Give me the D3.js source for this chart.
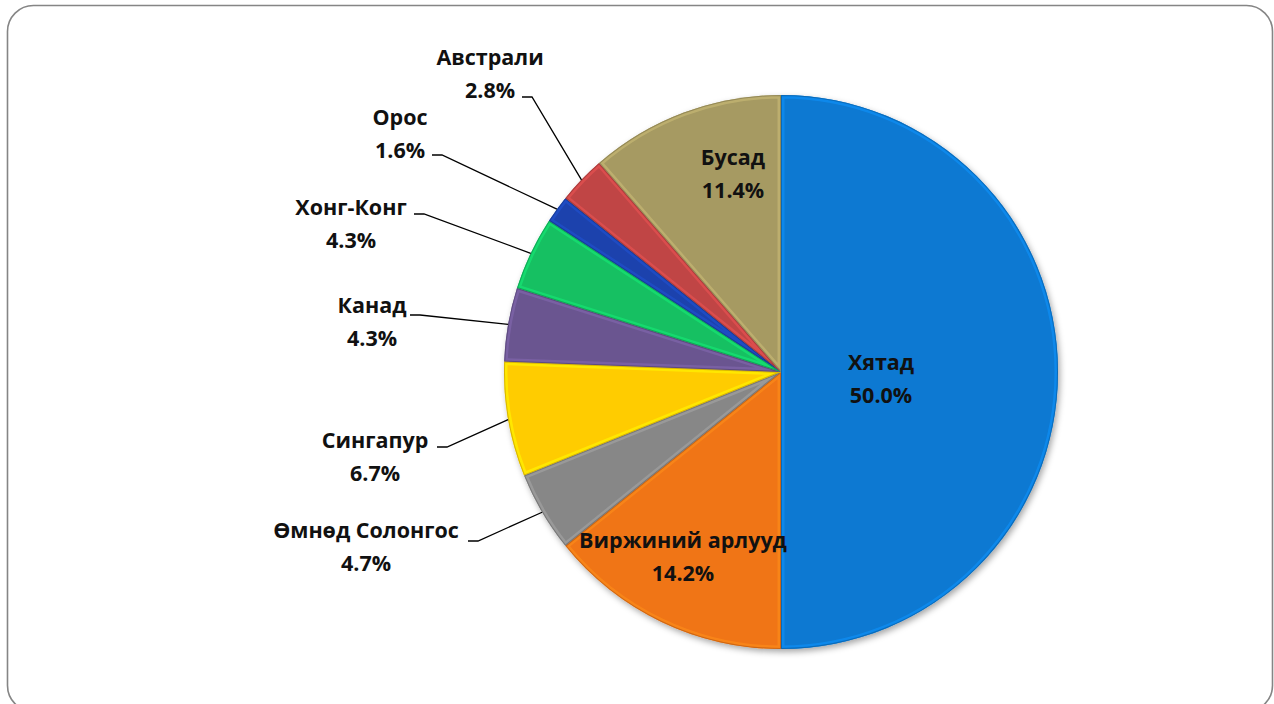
<!DOCTYPE html>
<html><head><meta charset="utf-8">
<script src="https://cdn.jsdelivr.net/npm/d3@7"></script>
<style>html,body{margin:0;padding:0;background:#fff;}svg{display:block;}</style>
</head><body>
<svg id="chart" width="1274" height="704"></svg>
<script>
const categories = ["Хятад","Виржиний арлууд","Өмнөд Солонгос","Сингапур","Канад","Хонг-Конг","Орос","Австрали","Бусад"];
const values = [50.0,14.2,4.7,6.7,4.3,4.3,1.6,2.8,11.4];
const valueLabels = ["50.0%","14.2%","4.7%","6.7%","4.3%","4.3%","1.6%","2.8%","11.4%"];
const colors = ["#0b79d2","#f07416","#878787","#ffcc00","#6b5590","#12c062","#1a43ad","#c04444","#a69a62"];

// label layout (positions are presentation, not data)
const layout = [
  {inside:true, x:881, y:362},
  {inside:true, x:683, y:540},
  {x:366, y:530, lx:468, ly:541},
  {x:375, y:440, lx:437, ly:447},
  {x:372, y:305, lx:410, ly:315},
  {x:351, y:207, lx:414, ly:214},
  {x:400, y:117, lx:432, ly:155},
  {x:490, y:57,  lx:522, ly:97},
  {inside:true, x:733, y:157}
];

const W=1274,H=704, cx=781, cy=372, R=277;
const svg = d3.select("#chart");
const defs = svg.append("defs");
const f = defs.append("filter").attr("id","sh").attr("x","-10%").attr("y","-10%").attr("width","120%").attr("height","120%");
f.append("feDropShadow").attr("dx",2).attr("dy",3).attr("stdDeviation",3).attr("flood-color","#000").attr("flood-opacity",0.35);

svg.append("rect").attr("x",7.5).attr("y",5.5).attr("width",1265).attr("height",706).attr("rx",26)
  .attr("fill","#fff").attr("stroke","#858585").attr("stroke-width",1.6);

const pie = d3.pie().value(d=>d).sort(null);
const arcs = pie(values);
const arc = d3.arc().innerRadius(0).outerRadius(R);

const g = svg.append("g").attr("transform",`translate(${cx},${cy})`);
const gp = g.append("g").attr("filter","url(#sh)");
arcs.forEach((a,i)=>{
  defs.append("clipPath").attr("id","c"+i).append("path").attr("d",arc(a));
});
gp.selectAll("path.s").data(arcs).join("path").attr("class","s")
  .attr("d",arc).attr("fill",(d,i)=>colors[i]);
// bevel highlight and shade
g.selectAll("path.hl").data(arcs).join("path").attr("class","hl")
  .attr("d",arc).attr("fill","none").attr("clip-path",(d,i)=>`url(#c${i})`)
  .attr("stroke",(d,i)=>d3.color(colors[i]).brighter(0.6)).attr("stroke-width",7).attr("stroke-opacity",0.55);
g.selectAll("path.dk").data(arcs).join("path").attr("class","dk")
  .attr("d",arc).attr("fill","none").attr("clip-path",(d,i)=>`url(#c${i})`)
  .attr("stroke",(d,i)=>d3.color(colors[i]).darker(0.7)).attr("stroke-width",2).attr("stroke-opacity",0.7);

// leader lines
const edge = d3.arc().innerRadius(R).outerRadius(R);
arcs.forEach((a,i)=>{
  const L = layout[i]; if(L.inside) return;
  const p = edge.centroid(a);
  svg.append("path").attr("d",`M${L.lx},${L.ly}H${L.lx+10}L${cx+p[0]},${cy+p[1]}`)
    .attr("fill","none").attr("stroke","#000").attr("stroke-width",1.3);
});

// labels
const font = "'Open Sans', sans-serif";
arcs.forEach((a,i)=>{
  const L = layout[i];
  const t = svg.append("text").attr("text-anchor","middle").attr("font-family",font)
    .attr("font-weight","bold").attr("font-size",21.5).attr("fill","#111");
  t.append("tspan").attr("x",L.x).attr("y",L.y).attr("dy","0.35em").text(categories[i]);
  t.append("tspan").attr("x",L.x).attr("y",L.y+33).attr("dy","0.35em").text(valueLabels[i]);
});
</script>
</body></html>
